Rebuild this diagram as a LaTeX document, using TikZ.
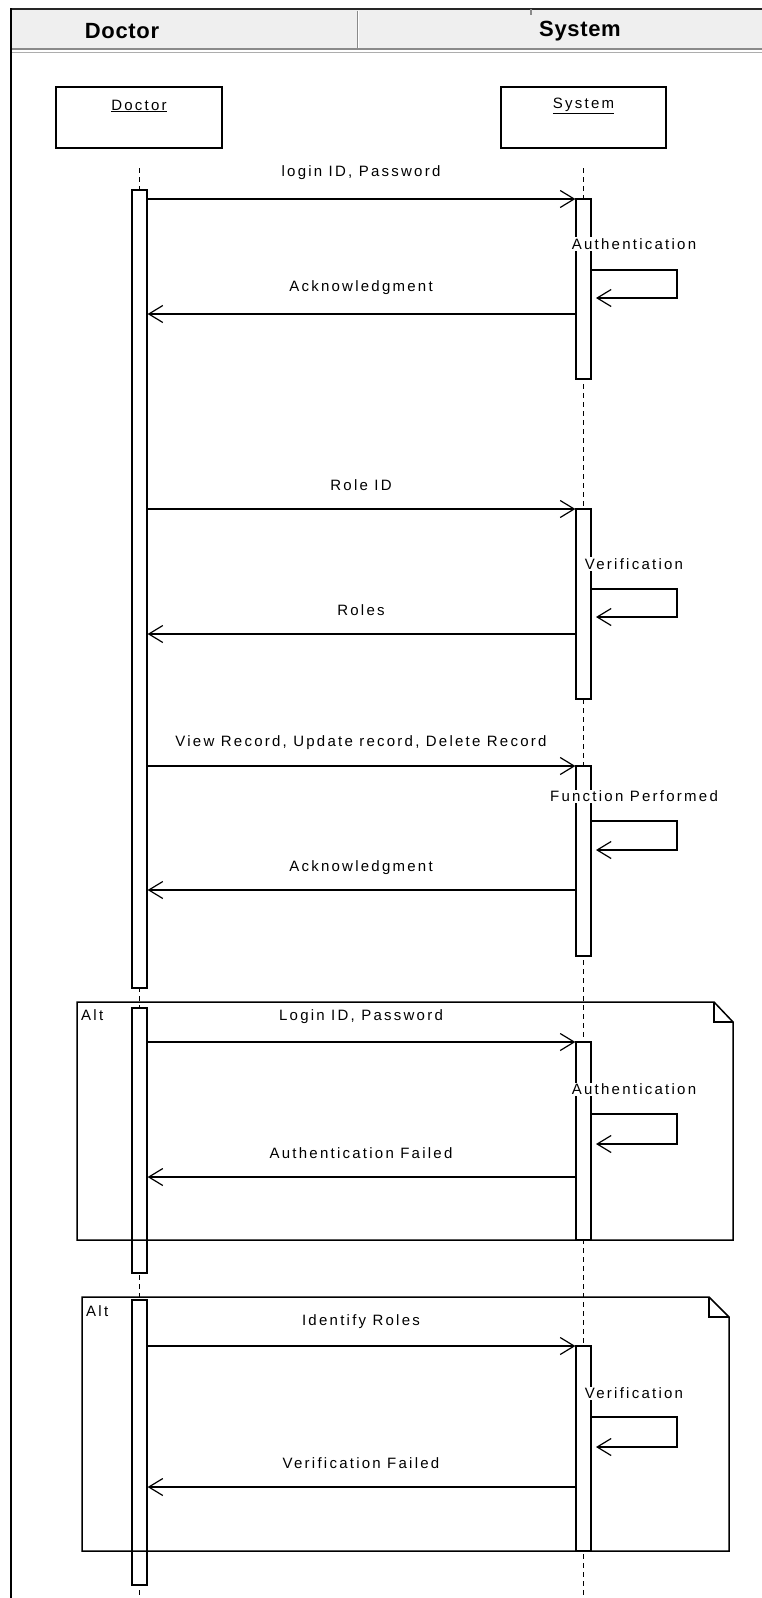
\documentclass[tikz,border=0pt]{standalone}
\usepackage{fontspec}
\setmainfont{Liberation Sans}
\newfontfamily\lblfont[LetterSpace=15]{Liberation Sans}
\newfontfamily\hdrfont[LetterSpace=3]{Liberation Sans}
\usetikzlibrary{arrows.meta}
\definecolor{hdrfill}{HTML}{EFEFEF}
\definecolor{hdrline}{HTML}{8A8A8A}
\begin{document}
\begin{tikzpicture}[x=1pt,y=-1pt,
  lbl/.style={font=\lblfont\fontsize{15}{18}\selectfont, inner sep=1pt},
  hdr/.style={font=\hdrfont\bfseries\fontsize{22}{26}\selectfont, inner sep=0pt},
  objbox/.style={draw, line width=1.3pt, minimum width=166pt, minimum height=61pt, inner sep=0pt},
  actbar/.style={draw, fill=white, line width=1.3pt, minimum width=15pt, inner sep=0pt},
  life/.style={line width=1.2pt, dash pattern=on 5pt off 4pt},
  msg/.style={line width=1.3pt, -{Straight Barb[length=14pt,width=17pt,line width=1.2pt]}},
  selflbl/.style={lbl, fill=white},
  altframe/.style={line width=1.5pt},
]
\useasboundingbox (0,0) rectangle (762,1598);
\fill[white] (0,0) rectangle (762,1598);

% header
\fill[hdrfill] (11,9) rectangle (762,49);
\draw[line width=2pt, black!85] (10,9) -- (762,9);
\draw[line width=2.2pt, hdrline] (11,49) -- (762,49);
\draw[line width=1pt, hdrline!70] (11,52.5) -- (762,52.5);
\draw[line width=1pt, hdrline] (357,11) -- (357,48);
\draw[line width=1pt, white] (358.6,11) -- (358.6,48);
\draw[line width=1.5pt, hdrline] (531,9) -- (531,15);
\draw[line width=2.5pt] (11,8) -- (11,1598);
\node[hdr] (hd) at (122,31) {Doctor};
\node[hdr] (hs) at (580,31) {System};

% object boxes
\node[objbox] (bd) at (139,117.5) {};
\node[objbox, minimum width=165pt] (bs) at (583.5,117.5) {};
\node[lbl] (bdl) at (139,106) {\underline{Doctor}};
\node[lbl] (bsl) at (583.5,106) {\underline{System}};

% lifelines
\coordinate (dl0) at (139.5,168);
\coordinate (dl1) at (139.5,1598);
\coordinate (sl0) at (583.5,168);
\coordinate (sl1) at (583.5,1598);
\draw[life] (dl0) -- (dl1);
\draw[life] (sl0) -- (sl1);

% activation bars
\node[actbar, minimum height=798pt] (d1) at (139.5,589) {};
\node[actbar, minimum height=265pt] (d2) at (139.5,1140.5) {};
\node[actbar, minimum height=285pt] (d3) at (139.5,1442.5) {};
\node[actbar, minimum height=180pt] (s1) at (583.5,289) {};
\node[actbar, minimum height=190pt] (s2) at (583.5,604) {};
\node[actbar, minimum height=190pt] (s3) at (583.5,861) {};
\node[actbar, minimum height=198pt] (s4) at (583.5,1141) {};
\node[actbar, minimum height=205pt] (s5) at (583.5,1448.5) {};

% block 1
\draw[msg] (d1.east |- 0,199) -- (s1.west |- 0,199);
\node[lbl] (t1) at (361,173) {login ID, Password};
\node[selflbl] (a1) at (634,244) {Authentication};
\draw[msg] (s1.east |- 0,270) -- (677,270) -- (677,298) -- (596,298);
\draw[msg] (s1.west |- 0,314) -- (d1.east |- 0,314);
\node[lbl] (t2) at (361,288) {Acknowledgment};

% block 2
\draw[msg] (d1.east |- 0,509) -- (s2.west |- 0,509);
\node[lbl] (t3) at (361,485) {Role ID};
\node[selflbl] (a2) at (634,564) {Verification};
\draw[msg] (s2.east |- 0,589) -- (677,589) -- (677,617) -- (596,617);
\draw[msg] (s2.west |- 0,634) -- (d1.east |- 0,634);
\node[lbl] (t4) at (361,610) {Roles};

% block 3
\draw[msg] (d1.east |- 0,766) -- (s3.west |- 0,766);
\node[lbl] (t5) at (361,743) {View Record, Update record, Delete Record};
\node[selflbl] (a3) at (634,796) {Function Performed};
\draw[msg] (s3.east |- 0,821) -- (677,821) -- (677,850) -- (596,850);
\draw[msg] (s3.west |- 0,890) -- (d1.east |- 0,890);
\node[lbl] (t6) at (361,868) {Acknowledgment};

% alt 1
\draw[msg] (d2.east |- 0,1042) -- (s4.west |- 0,1042);
\node[lbl] (t7) at (361,1017) {Login ID, Password};
\node[selflbl] (a4) at (634,1089) {Authentication};
\draw[msg] (s4.east |- 0,1114) -- (677,1114) -- (677,1144) -- (596,1144);
\draw[msg] (s4.west |- 0,1177) -- (d2.east |- 0,1177);
\node[lbl] (t8) at (361,1153) {Authentication Failed};
\draw[altframe] (77,1002) -- (714,1002) -- (733,1022) -- (733,1240) -- (77,1240) -- cycle;
\draw[altframe] (714,1002) -- (714,1022) -- (733,1022);
\node[lbl, anchor=west] (f1) at (80,1015) {Alt};

% alt 2
\draw[msg] (d3.east |- 0,1346) -- (s5.west |- 0,1346);
\node[lbl] (t9) at (361,1322) {Identify Roles};
\node[selflbl] (a5) at (634,1393) {Verification};
\draw[msg] (s5.east |- 0,1417) -- (677,1417) -- (677,1447) -- (596,1447);
\draw[msg] (s5.west |- 0,1487) -- (d3.east |- 0,1487);
\node[lbl] (t10) at (361,1463) {Verification Failed};
\draw[altframe] (82,1297) -- (709,1297) -- (729,1317) -- (729,1551) -- (82,1551) -- cycle;
\draw[altframe] (709,1297) -- (709,1317) -- (729,1317);
\node[lbl, anchor=west] (f2) at (85,1311) {Alt};
\end{tikzpicture}
\end{document}
